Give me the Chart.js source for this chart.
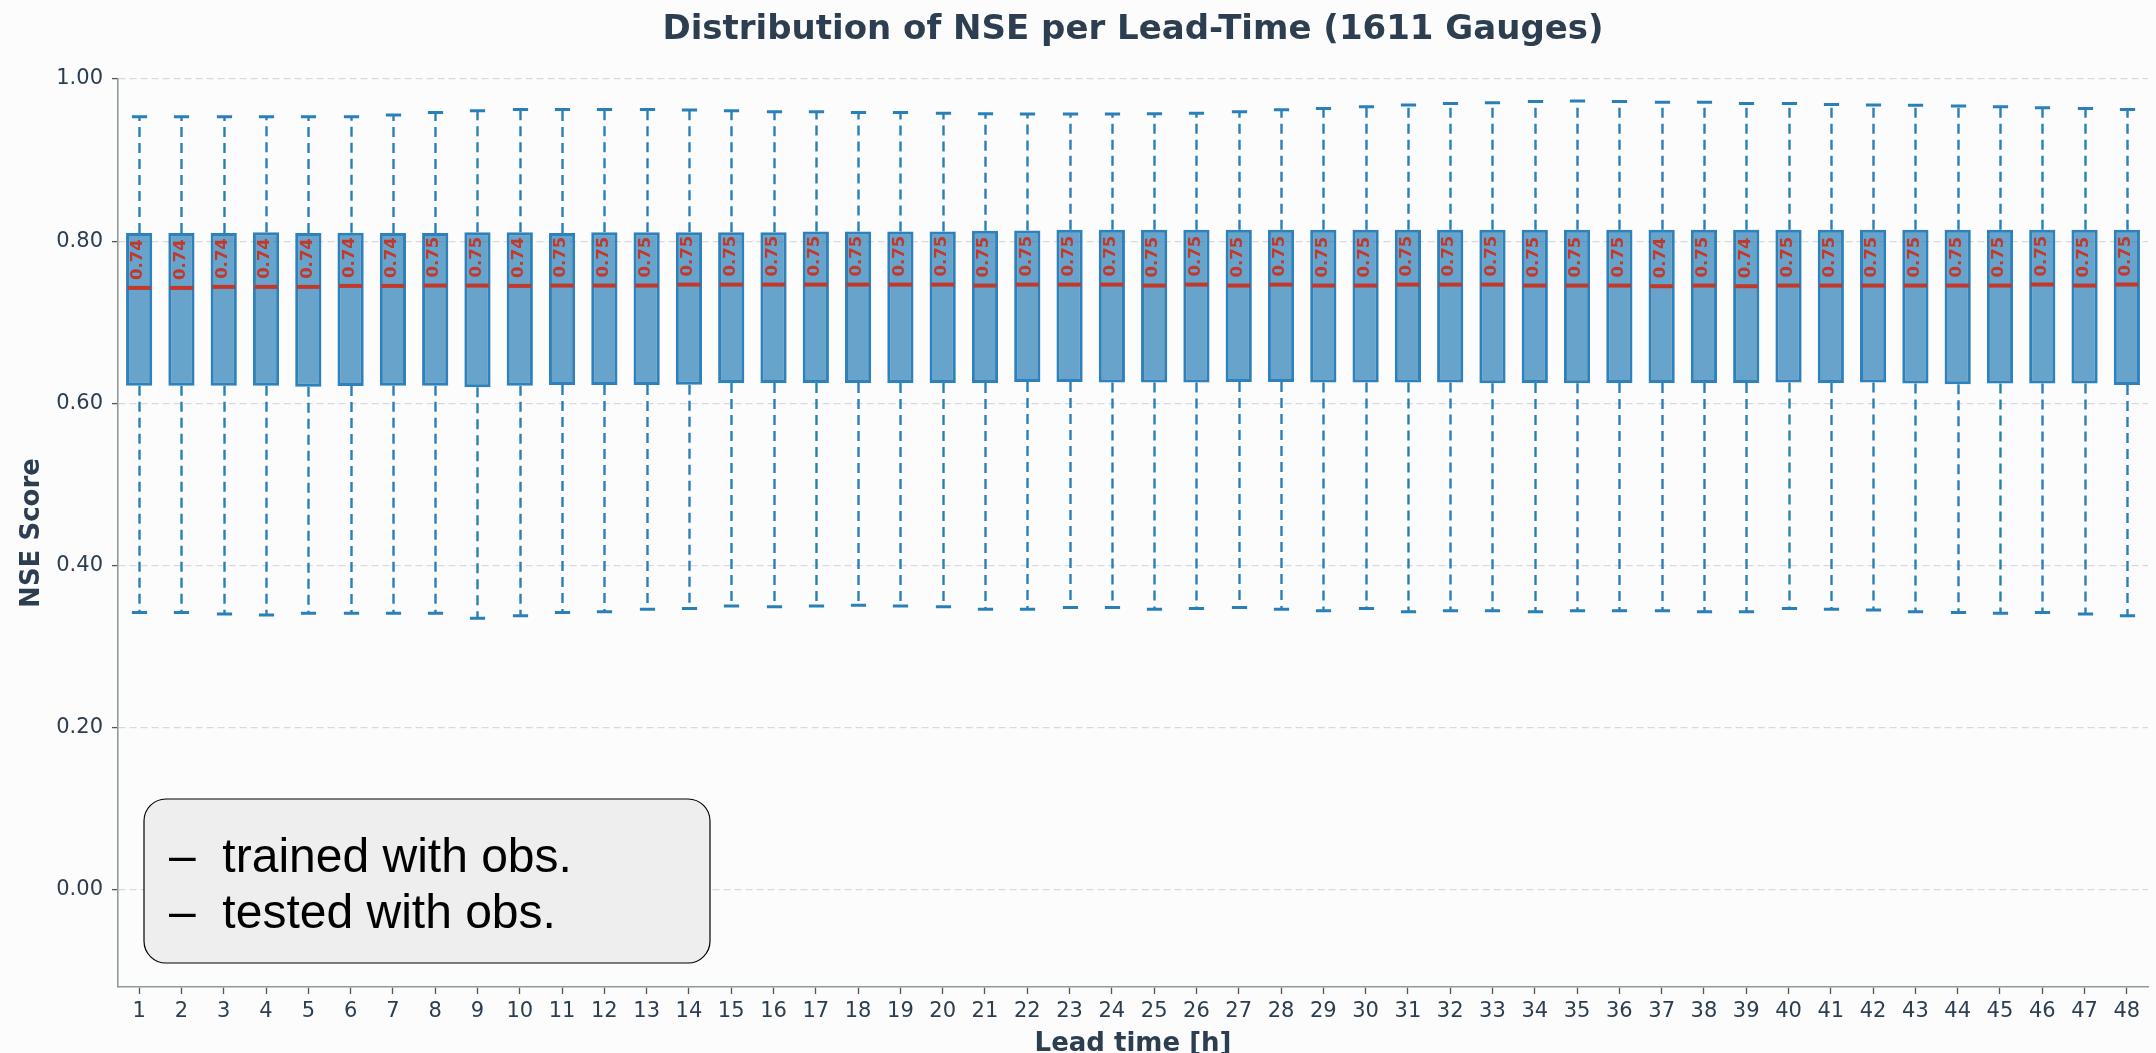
<!DOCTYPE html>
<html>
<head>
<meta charset="utf-8">
<title>Distribution of NSE per Lead-Time</title>
<script src="https://cdn.jsdelivr.net/npm/chart.js@4.4.1/dist/chart.umd.min.js"></script>
<style>
  html, body { margin: 0; padding: 0; background: #fcfcfc; overflow: hidden; }
  canvas { display: block; }
</style>
</head>
<body>
<canvas id="nseChart" width="2156" height="1053"></canvas>
<script>
// Lead times 1..48 h
const leadTimes = ["1","2","3","4","5","6","7","8","9","10","11","12","13","14","15","16",
  "17","18","19","20","21","22","23","24","25","26","27","28","29","30","31","32",
  "33","34","35","36","37","38","39","40","41","42","43","44","45","46","47","48"];

// Box statistics
const whiskerLow = [0.342,0.342,0.340,0.339,0.341,0.341,0.341,0.341,0.335,0.338,0.342,0.343,
  0.346,0.347,0.350,0.349,0.350,0.351,0.350,0.349,0.346,0.346,0.348,0.348,
  0.346,0.347,0.348,0.346,0.344,0.347,0.343,0.344,0.344,0.343,0.344,0.344,
  0.344,0.343,0.343,0.347,0.346,0.345,0.343,0.342,0.341,0.342,0.340,0.338];
const q1 = [0.6217,0.6217,0.6217,0.6217,0.6205,0.6213,0.6217,0.6217,0.6198,0.6217,0.6225,0.6225,
  0.6225,0.6229,0.6251,0.6251,0.6251,0.6251,0.6251,0.6251,0.6251,0.6263,0.6263,0.6255,
  0.6255,0.6255,0.6263,0.6263,0.6255,0.6255,0.6255,0.6255,0.6247,0.6251,0.6247,0.6251,
  0.6251,0.6251,0.6251,0.6255,0.6251,0.6255,0.6243,0.6235,0.6243,0.6243,0.6243,0.6225];
const median = [0.7423,0.7423,0.7436,0.7436,0.7436,0.7448,0.7448,0.7452,0.7452,0.7448,0.7452,0.7452,
  0.7452,0.7464,0.7464,0.7464,0.7464,0.7464,0.7464,0.7464,0.7452,0.7464,0.7464,0.7464,
  0.7452,0.7464,0.7452,0.7464,0.7452,0.7452,0.7464,0.7464,0.7464,0.7452,0.7452,0.7452,
  0.7444,0.7452,0.7444,0.7452,0.7452,0.7452,0.7452,0.7452,0.7452,0.7465,0.7452,0.7465];
const q3 = [0.8099,0.8099,0.8099,0.8111,0.8099,0.8103,0.8099,0.8099,0.8111,0.8111,0.8099,0.8111,
  0.8111,0.8111,0.8111,0.8111,0.8119,0.8119,0.8119,0.8119,0.8128,0.8132,0.8139,0.8139,
  0.8139,0.8139,0.8139,0.8139,0.8139,0.8139,0.8139,0.8139,0.8139,0.8139,0.8139,0.8139,
  0.8139,0.8139,0.8139,0.8139,0.8139,0.8139,0.8139,0.8139,0.8139,0.8139,0.8139,0.8139];
const whiskerHigh = [0.9535,0.9535,0.9535,0.9535,0.9535,0.9535,0.9555,0.9588,0.9609,0.9625,0.9625,0.9625,
  0.9625,0.9617,0.9609,0.9596,0.9596,0.9588,0.9588,0.9576,0.9572,0.9568,0.9568,0.9568,
  0.9572,0.9576,0.9596,0.9620,0.9637,0.9658,0.9679,0.9699,0.9707,0.9724,0.9728,0.9724,
  0.9712,0.9712,0.9699,0.9699,0.9687,0.9679,0.9675,0.9667,0.9658,0.9646,0.9637,0.9625];

const yTicks = [0, 0.2, 0.4, 0.6, 0.8, 1.0];
const chartTitle = "Distribution of NSE per Lead-Time (1611 Gauges)";
const legendLines = ["\u2013  trained with obs.", "\u2013  tested with obs."];

const BOX_FRAC = 0.62;   // box width as share of a category
const CAP_FRAC = 0.36;   // whisker cap width

const textColor = "#2c3e50";
const whiskerColor = "#2980b9";
const medianColor = "#c0392b";
const spineColor = "#8f9a9c";

// whiskers, medians, median labels
const boxParts = {
  id: "boxParts",
  beforeDatasetsDraw(chart) {
    const { ctx, scales: { x, y } } = chart;
    const band = x.width / leadTimes.length;
    const capHalf = band * CAP_FRAC / 2;
    ctx.save();
    ctx.strokeStyle = whiskerColor;
    leadTimes.forEach((lt, i) => {
      const px = Math.round(x.getPixelForValue(i)) + 0.5;
      // dashed whiskers, starting at the box edge
      ctx.lineWidth = 2.4;
      ctx.setLineDash([10, 6]);
      ctx.beginPath();
      ctx.moveTo(px, y.getPixelForValue(q3[i]));
      ctx.lineTo(px, y.getPixelForValue(whiskerHigh[i]));
      ctx.moveTo(px, y.getPixelForValue(q1[i]));
      ctx.lineTo(px, y.getPixelForValue(whiskerLow[i]));
      ctx.stroke();
      // caps
      ctx.setLineDash([]);
      ctx.lineWidth = 3;
      ctx.beginPath();
      const yh = y.getPixelForValue(whiskerHigh[i]);
      const yl = y.getPixelForValue(whiskerLow[i]);
      ctx.moveTo(px - capHalf, yh); ctx.lineTo(px + capHalf, yh);
      ctx.moveTo(px - capHalf, yl); ctx.lineTo(px + capHalf, yl);
      ctx.stroke();
    });
    ctx.restore();
  },
  afterDatasetsDraw(chart) {
    const { ctx, scales: { x, y } } = chart;
    const band = x.width / leadTimes.length;
    const half = band * BOX_FRAC / 2;
    ctx.save();
    ctx.strokeStyle = medianColor;
    ctx.lineWidth = 4;
    leadTimes.forEach((lt, i) => {
      const px = x.getPixelForValue(i);
      const py = y.getPixelForValue(median[i]);
      ctx.beginPath();
      ctx.moveTo(px - half + 1.5, py);
      ctx.lineTo(px + half - 1.5, py);
      ctx.stroke();
    });
    ctx.fillStyle = medianColor;
    ctx.font = "bold 16.5px 'DejaVu Sans', sans-serif";
    ctx.textAlign = "left";
    ctx.textBaseline = "middle";
    leadTimes.forEach((lt, i) => {
      const px = x.getPixelForValue(i);
      const py = y.getPixelForValue(median[i]);
      ctx.save();
      ctx.translate(px - 1, py - 8);
      ctx.rotate(-Math.PI / 2);
      ctx.fillText(median[i].toFixed(2), 0, 0);
      ctx.restore();
    });
    ctx.restore();
  }
};

// title centred over the plot area, text box in the lower left
const decorations = {
  id: "decorations",
  beforeDraw(chart) {
    const { ctx, width, height } = chart;
    ctx.save();
    ctx.fillStyle = "#fcfcfc";
    ctx.fillRect(0, 0, width, height);
    ctx.restore();
  },
  afterDraw(chart) {
    const { ctx, chartArea } = chart;
    ctx.save();
    ctx.fillStyle = textColor;
    ctx.font = "bold 34px 'DejaVu Sans', sans-serif";
    ctx.textAlign = "center";
    ctx.textBaseline = "middle";
    ctx.fillText(chartTitle, (chartArea.left + chartArea.right) / 2, 30);

    const bx = chartArea.left + 26, by = chartArea.bottom - 188;
    const bw = 566, bh = 164, r = 22;
    ctx.beginPath();
    ctx.moveTo(bx + r, by);
    ctx.arcTo(bx + bw, by, bx + bw, by + bh, r);
    ctx.arcTo(bx + bw, by + bh, bx, by + bh, r);
    ctx.arcTo(bx, by + bh, bx, by, r);
    ctx.arcTo(bx, by, bx + bw, by, r);
    ctx.closePath();
    ctx.fillStyle = "#eeeeee";
    ctx.fill();
    ctx.strokeStyle = "#000";
    ctx.lineWidth = 1.2;
    ctx.stroke();
    ctx.fillStyle = "#000";
    ctx.font = "48px 'Liberation Sans', Arial, sans-serif";
    ctx.textAlign = "left";
    ctx.textBaseline = "alphabetic";
    legendLines.forEach((t, k) => ctx.fillText(t, bx + 25, by + 72.5 + k * 56.7));
    ctx.restore();
  }
};

new Chart(document.getElementById("nseChart"), {
  type: "bar",
  data: {
    labels: leadTimes,
    datasets: [{
      label: "NSE",
      data: leadTimes.map((lt, i) => [q1[i], q3[i]]),
      backgroundColor: "rgba(31,119,180,0.67)",
      borderColor: "rgba(36,122,183,0.95)",
      borderWidth: 3,
      borderSkipped: false,
      barPercentage: BOX_FRAC,
      categoryPercentage: 1.0
    }]
  },
  options: {
    responsive: false,
    animation: false,
    layout: { padding: { left: 0, right: 8, top: 79, bottom: 0 } },
    plugins: {
      legend: { display: false },
      tooltip: { enabled: false },
      title: { display: false }
    },
    scales: {
      x: {
        offset: true,
        grid: { display: true, drawOnChartArea: false, offset: false, tickLength: 7, tickColor: "#555", tickWidth: 1.3 },
        border: { display: true, color: spineColor, width: 1.6 },
        ticks: {
          color: textColor, autoSkip: false, maxRotation: 0, padding: 5,
          font: { family: "'DejaVu Sans', sans-serif", size: 21 }
        },
        title: {
          display: true, text: "Lead time [h]", color: textColor,
          font: { family: "'DejaVu Sans', sans-serif", size: 26, weight: "bold", lineHeight: 0.7 },
          padding: { top: 0, bottom: 0 }
        },
        afterFit(scale) { scale.height = 66; }
      },
      y: {
        min: -0.12,
        max: 1.0,
        afterBuildTicks(scale) { scale.ticks = yTicks.map(v => ({ value: v })); },
        grid: {
          color: "#d9d9d9", lineWidth: 1.2,
          tickLength: 6, tickColor: "#555", tickWidth: 1.3, tickBorderDash: []
        },
        border: { display: true, color: spineColor, width: 1.6, dash: [7, 4] },
        ticks: {
          color: textColor, padding: 9,
          font: { family: "'DejaVu Sans', sans-serif", size: 21 },
          callback: v => Number(v).toFixed(2)
        },
        title: {
          display: true, text: "NSE Score", color: textColor,
          font: { family: "'DejaVu Sans', sans-serif", size: 26, weight: "bold", lineHeight: 1 },
          padding: { top: 19, bottom: 0 }
        },
        afterFit(scale) { scale.width = 118; }
      }
    }
  },
  plugins: [decorations, boxParts]
});
</script>
</body>
</html>
